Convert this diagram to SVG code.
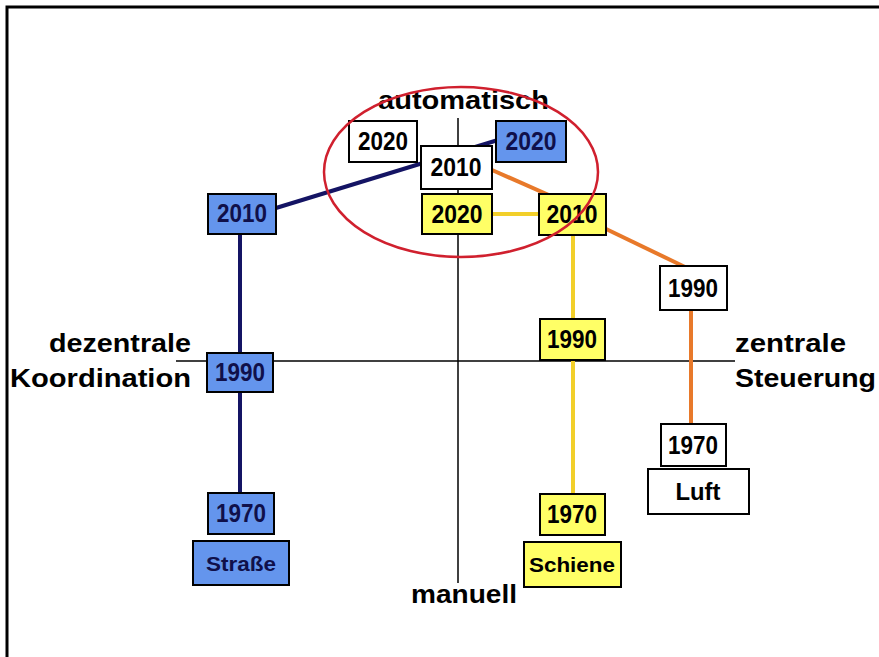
<svg xmlns="http://www.w3.org/2000/svg" width="879" height="657" viewBox="0 0 879 657">
<style>
.box{stroke:#000;stroke-width:2}
.w{fill:#fff}.b{fill:#6495ed}.y{fill:#ffff66}
.t{font-family:"Liberation Sans",Arial,sans-serif;font-weight:bold;font-size:25px;fill:#000;text-anchor:middle}
.tb{fill:#10104a}
.ax{font-family:"Liberation Sans",Arial,sans-serif;font-weight:bold;font-size:25px;fill:#000}
.axis{stroke:#000;stroke-width:1.5}
.navy{stroke:#141464;stroke-width:4;fill:none}
.yl{stroke:#f2cf2a;stroke-width:4;fill:none}
.or{stroke:#e8792a;stroke-width:4;fill:none}
</style>
<rect x="0" y="0" width="879" height="657" fill="#fff"/>
<rect x="7" y="7" width="900" height="700" fill="none" stroke="#000" stroke-width="3"/>
<g id="axes">
<line class="axis" x1="458" y1="118" x2="458" y2="583"/>
<line class="axis" x1="176" y1="361" x2="735" y2="361"/>
<text class="ax" x="378" y="109" textLength="171" lengthAdjust="spacingAndGlyphs">automatisch</text>
<text class="ax" x="411" y="603" textLength="106" lengthAdjust="spacingAndGlyphs">manuell</text>
<text class="ax" x="49" y="352" textLength="142" lengthAdjust="spacingAndGlyphs">dezentrale</text>
<text class="ax" x="10" y="387" textLength="181" lengthAdjust="spacingAndGlyphs">Koordination</text>
<text class="ax" x="735" y="352" textLength="111" lengthAdjust="spacingAndGlyphs">zentrale</text>
<text class="ax" x="735" y="387" textLength="141" lengthAdjust="spacingAndGlyphs">Steuerung</text>
</g>
<g id="connectors">
<line class="navy" x1="276" y1="208" x2="498" y2="140"/>
<line class="navy" x1="240" y1="234" x2="240" y2="493"/>
<line class="yl" x1="492" y1="214" x2="539" y2="214"/>
<line class="yl" x1="573" y1="235" x2="573" y2="494"/>
<line class="or" x1="492" y1="170" x2="560" y2="200"/>
<line class="or" x1="604" y1="228" x2="685" y2="267"/>
<line class="or" x1="691" y1="310" x2="691" y2="424"/>
</g>
<g id="w2020"><rect class="box w" x="349" y="121" width="68" height="41"/><text class="t" x="383" y="150" textLength="50" lengthAdjust="spacingAndGlyphs">2020</text></g>
<g id="b2020"><rect class="box b" x="496" y="121" width="70" height="41"/><text class="t tb" x="531" y="150" textLength="51" lengthAdjust="spacingAndGlyphs">2020</text></g>
<g id="w2010"><rect class="box w" x="421" y="146" width="71" height="43"/><text class="t" x="456" y="176" textLength="51" lengthAdjust="spacingAndGlyphs">2010</text></g>
<g id="y2020"><rect class="box y" x="422" y="194" width="70" height="40"/><text class="t" x="457" y="223" textLength="51" lengthAdjust="spacingAndGlyphs">2020</text></g>
<g id="y2010"><rect class="box y" x="539" y="194" width="67" height="41"/><text class="t" x="572" y="223" textLength="51" lengthAdjust="spacingAndGlyphs">2010</text></g>
<g id="b2010"><rect class="box b" x="208" y="194" width="68" height="40"/><text class="t tb" x="242" y="222" textLength="50" lengthAdjust="spacingAndGlyphs">2010</text></g>
<g id="b1990"><rect class="box b" x="207" y="353" width="66" height="39"/><text class="t tb" x="240" y="381" textLength="50" lengthAdjust="spacingAndGlyphs">1990</text></g>
<g id="b1970"><rect class="box b" x="208" y="493" width="66" height="41"/><text class="t tb" x="241" y="522" textLength="50" lengthAdjust="spacingAndGlyphs">1970</text></g>
<g id="strasse"><rect class="box b" x="193" y="541" width="96" height="44"/><text class="t tb" x="241" y="571" style="font-size:21px" textLength="70" lengthAdjust="spacingAndGlyphs">Straße</text></g>
<g id="y1990"><rect class="box y" x="540" y="319" width="65" height="41"/><text class="t" x="572" y="348" textLength="50" lengthAdjust="spacingAndGlyphs">1990</text></g>
<g id="y1970"><rect class="box y" x="540" y="494" width="65" height="41"/><text class="t" x="572" y="523" textLength="50" lengthAdjust="spacingAndGlyphs">1970</text></g>
<g id="schiene"><rect class="box y" x="524" y="542" width="97" height="45"/><text class="t" x="572" y="572" style="font-size:21px" textLength="86" lengthAdjust="spacingAndGlyphs">Schiene</text></g>
<g id="w1990"><rect class="box w" x="660" y="266" width="67" height="44"/><text class="t" x="693" y="297" textLength="50" lengthAdjust="spacingAndGlyphs">1990</text></g>
<g id="w1970"><rect class="box w" x="661" y="424" width="65" height="42"/><text class="t" x="693" y="454" textLength="50" lengthAdjust="spacingAndGlyphs">1970</text></g>
<g id="luft"><rect class="box w" x="648" y="469" width="101" height="45"/><text class="t" x="698" y="500" style="font-size:23px" textLength="45" lengthAdjust="spacingAndGlyphs">Luft</text></g>
<ellipse cx="461" cy="172" rx="137" ry="85" fill="none" stroke="#d0202e" stroke-width="2.5"/>
</svg>
